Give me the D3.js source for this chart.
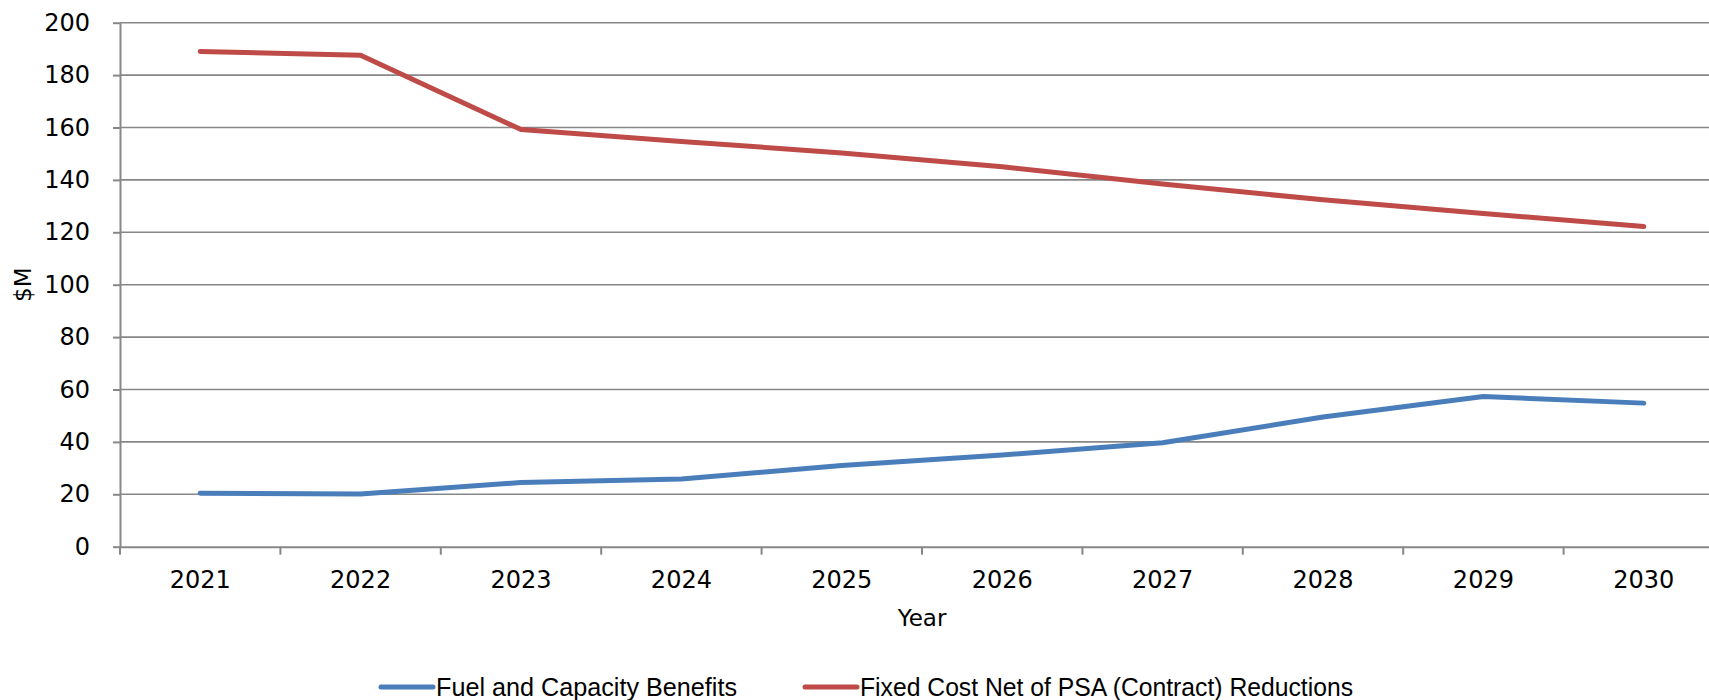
<!DOCTYPE html>
<html>
<head>
<meta charset="utf-8">
<script src="https://cdn.jsdelivr.net/npm/d3@7"></script>
<style>
    body { margin: 0; background: #fff; }
    svg { display: block; }
    .tick text { font-family: "DejaVu Sans", sans-serif; font-size: 24px; fill: #000; }
</style>
</head>
<body>
<div id="chart"></div>
<script>
// chart values
var years = ["2021", "2022", "2023", "2024", "2025", "2026", "2027", "2028", "2029", "2030"];
var fuelCapacity = [20.4, 20.1, 24.5, 25.8, 31.0, 35.0, 39.7, 49.5, 57.3, 54.8];
var fixedCost = [189.0, 187.6, 159.2, 154.7, 150.3, 145.0, 138.4, 132.4, 127.2, 122.2];
var yTicks = [0, 20, 40, 60, 80, 100, 120, 140, 160, 180, 200];
var seriesNames = ["Fuel and Capacity Benefits", "Fixed Cost Net of PSA (Contract) Reductions"];
var seriesColors = ["#4A7EBB", "#BE4B48"];

var width = 1709, height = 700;
// plot area runs past the right edge in the original, so it gets clipped
var margin = {left: 120, top: 22.7, right: 1724, bottom: 546.7};

var svg = d3.select("#chart")
    .append("svg")
    .attr("width", width)
    .attr("height", height);

var x = d3.scaleBand()
    .domain(years)
    .range([margin.left, margin.right])
    .padding(0);

var y = d3.scaleLinear()
    .domain([0, 200])
    .range([margin.bottom, margin.top]);

//gridlines
svg.append("g")
    .selectAll("line")
    .data(yTicks.filter(function(d) { return d > 0; }))
    .enter()
    .append("line")
    .attr("x1", margin.left)
    .attr("x2", margin.right)
    .attr("y1", function(d) { return y(d); })
    .attr("y2", function(d) { return y(d); })
    .style("stroke", "#878787")
    .style("stroke-width", 1.6);

// y axis
var yAxis = svg.append("g")
    .attr("transform", "translate(" + margin.left + ",0)")
    .call(d3.axisLeft(y).tickValues(yTicks).tickSize(7).tickPadding(23).tickSizeOuter(0));
yAxis.selectAll("line, path").style("stroke", "#878787").style("stroke-width", 2);

// x axis, ticks sit on band edges
var xAxis = svg.append("g")
    .attr("transform", "translate(0," + margin.bottom + ")")
    .call(d3.axisBottom(x).tickSize(0).tickPadding(24));
xAxis.select("path").style("stroke", "#878787").style("stroke-width", 2);
xAxis.selectAll(".tick text").attr("dy", "0.71em");

svg.append("g")
    .selectAll("line")
    .data(years)
    .enter()
    .append("line")
    .attr("x1", function(d) { return x(d); })
    .attr("x2", function(d) { return x(d); })
    .attr("y1", margin.bottom)
    .attr("y2", margin.bottom + 8)
    .style("stroke", "#878787")
    .style("stroke-width", 2);

// axis titles
svg.append("text")
    .attr("transform", "translate(31," + ((margin.top + margin.bottom) / 2) + ") rotate(-90)")
    .attr("text-anchor", "middle")
    .style("font-family", "DejaVu Sans, sans-serif")
    .style("font-size", "23px")
    .text("$M");

svg.append("text")
    .attr("x", (margin.left + margin.right) / 2)
    .attr("y", 626)
    .attr("text-anchor", "middle")
    .style("font-family", "DejaVu Sans, sans-serif")
    .style("font-size", "23px")
    .text("Year");

// lines
var line = d3.line()
    .x(function(d, i) { return x(years[i]) + x.bandwidth() / 2; })
    .y(function(d) { return y(d); });

[fuelCapacity, fixedCost].forEach(function(series, i) {
    svg.append("path")
        .datum(series)
        .attr("d", line)
        .style("fill", "none")
        .style("stroke", seriesColors[i])
        .style("stroke-width", 5)
        .style("stroke-linecap", "round")
        .style("stroke-linejoin", "round");
});

// legend (narrow text in the original)
var legendX = [381, 805];
var legendW = [301, 493];
var legend = svg.append("g");
seriesNames.forEach(function(name, i) {
    legend.append("line")
        .attr("x1", legendX[i])
        .attr("x2", legendX[i] + 52)
        .attr("y1", 687)
        .attr("y2", 687)
        .style("stroke", seriesColors[i])
        .style("stroke-width", 5)
        .style("stroke-linecap", "round");
    legend.append("text")
        .attr("x", legendX[i] + 55)
        .attr("y", 696)
        .attr("textLength", legendW[i])
        .attr("lengthAdjust", "spacingAndGlyphs")
        .style("font-family", "Liberation Sans, Arial, sans-serif")
        .style("font-size", "25px")
        .text(name);
});
</script>
</body>
</html>
